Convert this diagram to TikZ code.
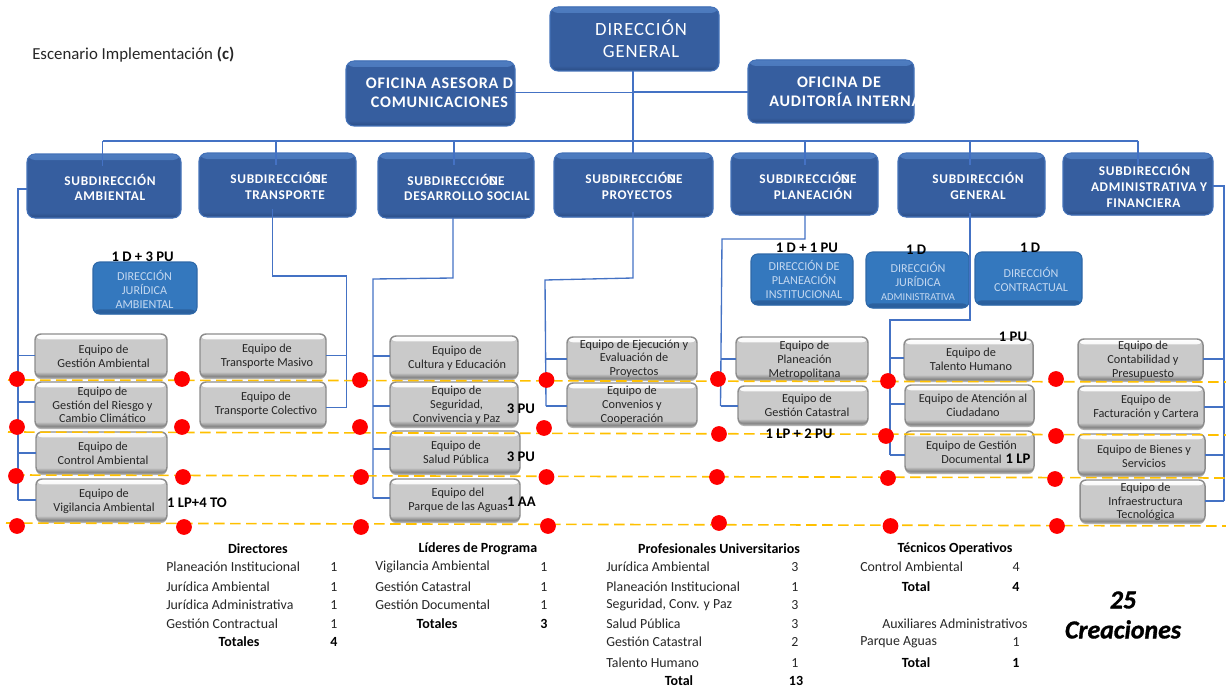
\documentclass[tikz,border=0pt]{standalone}
\usepackage{fontspec}
\setmainfont{Carlito}
\newfontfamily\spfont[LetterSpace=5]{Carlito}
\usetikzlibrary{calc,shadows}
\definecolor{bluemain}{HTML}{365E9F}
\definecolor{blueedge}{HTML}{4472B8}
\definecolor{bluehi}{HTML}{4E7CC0}
\definecolor{bluelo}{HTML}{2A4C84}
\definecolor{ltmain}{HTML}{3478BE}
\definecolor{ltedge}{HTML}{2E68A8}
\definecolor{ltlo}{HTML}{2A5F9C}
\definecolor{lttext}{HTML}{C4D8F0}
\definecolor{greymain}{HTML}{CACACA}
\definecolor{greyedge}{HTML}{8C8C8C}
\definecolor{greylo}{HTML}{777777}
\definecolor{connblue}{HTML}{4472C4}
\definecolor{dashor}{HTML}{FFC000}
\definecolor{dotred}{HTML}{FF0000}
\definecolor{txt}{HTML}{262626}
\tikzset{
 boxbase/.style={rectangle,inner sep=0pt,outer sep=0pt},
 bluebox/.style={boxbase,rounded corners=6pt,draw=blueedge,line width=.8pt,fill=bluemain,
   path picture={
     \fill[top color=bluehi,bottom color=bluemain] (path picture bounding box.north west) rectangle ([yshift=-4.5pt]path picture bounding box.north east);
     \fill[top color=bluemain,bottom color=bluelo] ([yshift=4pt]path picture bounding box.south west) rectangle (path picture bounding box.south east);
   }},
 blueboxtext/.style={align=center,text=white,inner sep=0pt,font=\spfont\bfseries\fontsize{10}{11.7}\selectfont},
 dgbox/.style={bluebox},
 dgboxtext/.style={align=center,text=white,inner sep=0pt,font=\spfont\fontsize{14}{16.5}\selectfont},
 ofbox/.style={bluebox},
 ofboxtext/.style={align=center,text=white,inner sep=0pt,font=\spfont\bfseries\fontsize{12.1}{14}\selectfont},
 ltbox/.style={boxbase,rounded corners=5pt,draw=ltedge,line width=.8pt,fill=ltmain,
   path picture={
     \fill[top color=ltmain,bottom color=ltlo] ([yshift=3.5pt]path picture bounding box.south west) rectangle (path picture bounding box.south east);
   }},
 ltboxtext/.style={align=center,text=lttext,inner sep=0pt,font=\fontsize{9.1}{10.5}\selectfont},
 greybox/.style={boxbase,rounded corners=4.5pt,draw=greyedge,line width=1.1pt,fill=greymain,
   drop shadow={shadow xshift=0pt,shadow yshift=-1.5pt,fill=black,opacity=.3},
   path picture={
     \fill[top color=white,bottom color=greymain] (path picture bounding box.north west) rectangle ([yshift=-4pt]path picture bounding box.north east);
     \fill[top color=greymain,bottom color=greylo] ([yshift=4pt]path picture bounding box.south west) rectangle (path picture bounding box.south east);
   }},
 greyboxtext/.style={align=center,text=txt,inner sep=0pt,font=\fontsize{9.2}{10.3}\selectfont},
 conn/.style={draw=connblue,line width=1pt},
 odash/.style={draw=dashor,line width=1.2pt,dash pattern=on 8pt off 4pt},
 reddot/.style={circle,fill=dotred,inner sep=0pt,minimum size=11.8pt},
 lbl/.style={inner sep=0pt,text=black,font=\bfseries\fontsize{11}{13}\selectfont},
 tbl/.style={inner sep=0pt,text=txt,font=\fontsize{10.4}{12}\selectfont},
 tblb/.style={inner sep=0pt,text=black,font=\bfseries\fontsize{10.5}{12}\selectfont},
}
% #1 kind, #2 name, (#3,#4,#5,#6) box corners, (#7,#8) text centre, #9 text
\def\txtlist{}
\def\bx#1#2(#3,#4,#5,#6)(#7,#8)#9{%
  \node[#1,minimum width={(#5-#3)*0.75pt},minimum height={(#6-#4)*0.75pt}] (#2) at ({(#3+#5)/2},{(#4+#6)/2}) {};
  \expandafter\gdef\expandafter\txtlist\expandafter{\txtlist \node[#1text] (#2t) at (#7,#8) {#9};}%
}
\newcommand{\sh}[1]{\hspace*{#1\dimexpr 0.75pt\relax}}
\newcommand{\sdde}{SUBDIRECCIÓ\rlap{N}DE}
\begin{document}
\begin{tikzpicture}[x=0.75pt,y=-0.75pt]
\useasboundingbox (0,0) rectangle (1226,688);

% ---- boxes
\bx{dgbox}{dg}(550,7,719,71)(641,39){DIRECCIÓN\\GENERAL}
\bx{ofbox}{oa}(346,61,515,126)(439.5,92.5){OFICINA ASESORA D\\COMUNICACIONES}
\bx{ofbox}{oi}(748,60,914,123)(839,82){OFICINA DE}
\bx{bluebox}{sa}(27,154,181,218)(110,187.5){SUBDIRECCIÓN\\AMBIENTAL}
\bx{bluebox}{st}(199,153,356,217)(279,186){\sdde\\\sh{12}TRANSPORTE}
\bx{bluebox}{sd}(378,153,534,218)(467,187.5){\sh{-22}\sdde\\DESARROLLO SOCIAL}
\bx{bluebox}{sp}(554,153,713,217)(634,186){\sdde\\\sh{6}PROYECTOS}
\bx{bluebox}{sl}(731,153,878,215)(808,186){\sdde\\\sh{10}PLANEACIÓN}
\bx{bluebox}{sg}(898,153,1045,217)(978,186){SUBDIRECCIÓN\\GENERAL}
\bx{bluebox}{sf}(1063,153,1213,215)(1149,186){\sh{-9}SUBDIRECCIÓN\\ADMINISTRATIVA Y\\\sh{-11}FINANCIERA}

\bx{ltbox}{d1}(93,262,197,314)(144.5,289){DIRECCIÓN\\JURÍDICA\\AMBIENTAL}
\bx{ltbox}{d2}(751,254,853,305)(804,279){DIRECCIÓN DE\\PLANEACIÓN\\INSTITUCIONAL}
\bx{ltbox}{d3}(866,252,969,308)(918,281){DIRECCIÓN\\JURÍDICA\\{\fontsize{7.9}{10.5}\selectfont ADMINISTRATIVA}}
\bx{ltbox}{d4}(975,252,1082,305)(1031,279){DIRECCIÓN\\CONTRACTUAL}

\bx{greybox}{a1}(35,334,167,377)(103.6,356){Equipo de\\Gestión Ambiental}
\bx{greybox}{a2}(35,382,167,427)(102.5,405){Equipo de\\Gestión del Riesgo y\\Cambio Climático}
\bx{greybox}{a3}(36,432,167,473)(103,453){Equipo de\\Control Ambiental}
\bx{greybox}{a4}(36,479,167,521)(104,501){Equipo de\\Vigilancia Ambiental}
\bx{greybox}{t1}(200,334,326,377)(267,356){Equipo de\\Transporte Masivo}
\bx{greybox}{t2}(200,382,326,427)(266,404){Equipo de\\Transporte Colectivo}
\bx{greybox}{c1}(390,336,518,378)(457,358){Equipo de\\Cultura y Educación}
\bx{greybox}{c2}(390,382,518,426)(456.6,405){Equipo de\\Seguridad,\\Convivencia y Paz}
\bx{greybox}{c3}(390,431,520,473)(456,452){Equipo de\\Salud Pública}
\bx{greybox}{c4}(390,479,520,521)(458,500){Equipo del\\Parque de las Aguas}
\bx{greybox}{p1}(567,337,697,379)(634,358.5){Equipo de Ejecución y\\Evaluación de\\Proyectos}
\bx{greybox}{p2}(567,383,697,426)(632,405){Equipo de\\Convenios y\\Cooperación}
\bx{greybox}{m1}(736,337,868,379)(804.5,360){Equipo de\\Planeación\\Metropolitana}
\bx{greybox}{m2}(738,386,868,424)(807,405){Equipo de\\Gestión Catastral}
\bx{greybox}{g1}(904,339,1033,380)(971,359){Equipo de\\Talento Humano}
\bx{greybox}{g2}(905,385,1034,425)(973,405){Equipo de Atención al\\Ciudadano}
\bx{greybox}{g3}(905,431,1034,472)(971.5,452){Equipo de Gestión\\Documental}
\bx{greybox}{f1}(1078,339,1203,380)(1143,360){Equipo de\\Contabilidad y\\Presupuesto}
\bx{greybox}{f2}(1078,386,1204,428)(1146,407){Equipo de\\Facturación y Cartera}
\bx{greybox}{f3}(1078,434,1205,475)(1144,456){Equipo de Bienes y\\Servicios}
\bx{greybox}{f4}(1080,480,1205,522)(1145.5,502){Equipo de\\Infraestructura\\Tecnológica}

% ---- connectors
\coordinate (bl) at (102.5,141);
\coordinate (br) at (1138,141);
\coordinate (main) at (633,141);
\draw[conn] (bl) -- (br);
\draw[conn] (dg.south -| main) -- ([yshift=-.75pt]sp.north -| main);
\coordinate (oy) at (633,92.5);
\draw[conn] ([yshift=.5pt]oa.east) -- ([yshift=.5pt]oa.east -| oy);
\draw[conn] ([yshift=-.5pt]oi.west) -- ([yshift=-.5pt]oi.west -| oy);
\foreach \bxn/\bxx in {sa/102.5,st/276,sd/454,sl/805,sg/970,sf/1138}{
  \coordinate (dr) at (\bxx,141);
  \draw[conn] (dr) -- ([yshift=-9pt]dr |- \bxn.north);
}
% ambiental
\coordinate (ta) at (18,189);
\coordinate (tb) at (18,500);
\draw[conn] (sa.west |- ta) -- (ta) -- (tb);
\foreach \n/\d in {a1/0,a2/2.5,a3/-.5,a4/0}
  \draw[conn] ([yshift=\d*.75pt]\n.west) -- ([yshift=\d*.75pt]\n.west -| ta);
% transporte
\coordinate (tc) at (272.5,209);
\coordinate (td) at (272.5,276);
\coordinate (te) at (346.5,276);
\coordinate (tf) at (346.5,408);
\draw[conn] (tc) -- (td) -- (te) -- (tf);
\foreach \n/\d in {t1/0,t2/-3}
  \draw[conn] ([yshift=\d*.75pt]\n.east) -- ([yshift=\d*.75pt]\n.east -| te);
% desarrollo
\coordinate (ua) at (453,218);
\coordinate (ub) at (453,278);
\coordinate (uc) at (373,279);
\coordinate (ud) at (373,498);
\draw[conn] (ua) -- (ub) -- (uc) -- (ud);
\foreach \n/\d in {c1/1,c2/-2,c3/3,c4/2}
  \draw[conn] ([yshift=\d*.75pt]\n.west) -- ([yshift=\d*.75pt]\n.west -| uc);
% proyectos
\coordinate (va) at (633,212);
\coordinate (vb) at (633,278);
\coordinate (vc) at (545,280);
\coordinate (vd) at (546,406);
\draw[conn] (va) -- (vb) -- (vc) -- (vd);
\foreach \n/\d in {p1/-1,p2/-1.5}
  \draw[conn] ([yshift=\d*.75pt]\n.west) -- ([yshift=\d*.75pt]\n.west -| vd);
% planeacion
\coordinate (wa) at (805,215);
\coordinate (wb) at (805,239);
\coordinate (wc) at (722,239);
\coordinate (wd) at (720.5,406);
\draw[conn] (wa) -- (wb) -- (wc) -- (wd);
\foreach \n/\d in {m1/-1,m2/-1}
  \draw[conn] ([yshift=\d*.75pt]\n.west) -- ([yshift=\d*.75pt]\n.west -| wd);
% general
\coordinate (xa) at (970,213);
\coordinate (xb) at (970,320);
\coordinate (xc) at (890,320);
\coordinate (xd) at (890,455);
\draw[conn] (xa) -- (xb) -- (xc) -- (xd);
\foreach \n/\d in {g1/1.5,g2/1,g3/-3.5}
  \draw[conn] ([yshift=\d*.75pt]\n.west) -- ([yshift=\d*.75pt]\n.west -| xd);
% financiera
\coordinate (ya) at (1224,186);
\coordinate (yb) at (1224,501);
\draw[conn] (sf.east |- ya) -- (ya) -- (yb);
\foreach \n/\d in {f1/.5,f2/0,f3/-.5,f4/0}
  \draw[conn] ([yshift=\d*.75pt]\n.east) -- ([yshift=\d*.75pt]\n.east -| ya);

% ---- dashed levels
\coordinate (la) at (8,380);    \coordinate (lb) at (1226,382);
\coordinate (lc) at (8,432);    \coordinate (ld) at (1226,435);
\coordinate (le) at (14,475);   \coordinate (lf) at (1226,478);
\coordinate (lg) at (6,523);    \coordinate (lh) at (1226,526);
\draw[odash] (la) -- (lb);
\draw[odash] (lc) -- (ld);
\draw[odash] (le) -- (lf);
\draw[odash] (lg) -- (lh);

% ---- red dots
\foreach \x/\y [count=\i] in {17/379,182/379,360/380,546.5/380,718/379,888/381,1056/379,
  17/427,182/427,360/427,544/428,719/434,886/436,1056/436,
  16/476,183/477,361/477,546.5/477,717/477,888/478,1055/479,
  17/526,184/527,361/527,548/526,719/523,890.5/526,1057/526}
  \node[reddot] (dot\i) at (\x,\y) {};

% ---- box texts
\txtlist
\begin{scope}
  \clip (oi.north west) rectangle (oi.south east);
  \node[inner sep=0pt,text=white,anchor=west,font=\spfont\bfseries\fontsize{12.1}{14}\selectfont] (oit) at (769,100) {AUDITORÍA INTERNA};
\end{scope}

% ---- labels
\node[anchor=west,inner sep=0pt,text=txt,font=\fontsize{12.6}{15}\selectfont] (esc) at (32,55) {Escenario Implementación \textbf{(c)}};
\foreach \x/\y/\t [count=\i] in {142.7/257/1 D + 3 PU,807/248/1 D + 1 PU,916/250/1 D,1030/248/1 D,1013/337/1 PU,
  521/409/3 PU,521/457/3 PU,521.5/502/1 AA,197/503/1 LP+4 TO,799/434/1 LP + 2 PU,1018/459/1 LP}
  \node[lbl] (lab\i) at (\x,\y) {\t};

% ---- totals tables
\foreach \x/\y/\t [count=\i] in {
  166/567/Planeación Institucional,166/587/Jurídica Ambiental,166/605/Jurídica Administrativa,166/624/Gestión Contractual,
  375/567/Vigilancia Ambiental,375/587/Gestión Catastral,375/605/Gestión Documental,
  606/567/Jurídica Ambiental,606/587/Planeación Institucional,606/605/{Seguridad,  Conv. y Paz},606/624/Salud Pública,606/642/Gestión Catastral,606/663/Talento Humano,
  860/567/Control Ambiental,860/642/Parque Aguas}
  \node[tbl,anchor=west] (rowname\i) at (\x,\y) {\t};
\foreach \x/\y/\t [count=\i] in {
  334/567/1,334/587/1,334/605/1,334/624/1,
  544/567/1,544/587/1,544/605/1,
  795/567/3,795/587/1,795/605/3,795/624/3,795/642/2,795/663/1,
  1016/567/4,1016/642/1}
  \node[tbl] (rowval\i) at (\x,\y) {\t};
\foreach \x/\y/\t [count=\i] in {
  258/549/Directores,239/642/Totales,334/642/4,
  478/549/Líderes de Programa,437/624/Totales,544/624/3,
  719/549/Profesionales Universitarios,679/681/Total,796/681/13,
  955/549/Técnicos Operativos,916/587/Total,1016/587/4,916/663/Total,1016/663/1}
  \node[tblb] (rowb\i) at (\x,\y) {\t};
\node[tbl] (aux) at (955,624) {Auxiliares Administrativos};
\node[inner sep=0pt,align=center,text=black,font=\bfseries\itshape\addfontfeature{FakeBold=1.2}\fontsize{19.4}{22.5}\selectfont] (cre) at (1123,615) {25\\Creaciones};
\end{tikzpicture}
\end{document}
